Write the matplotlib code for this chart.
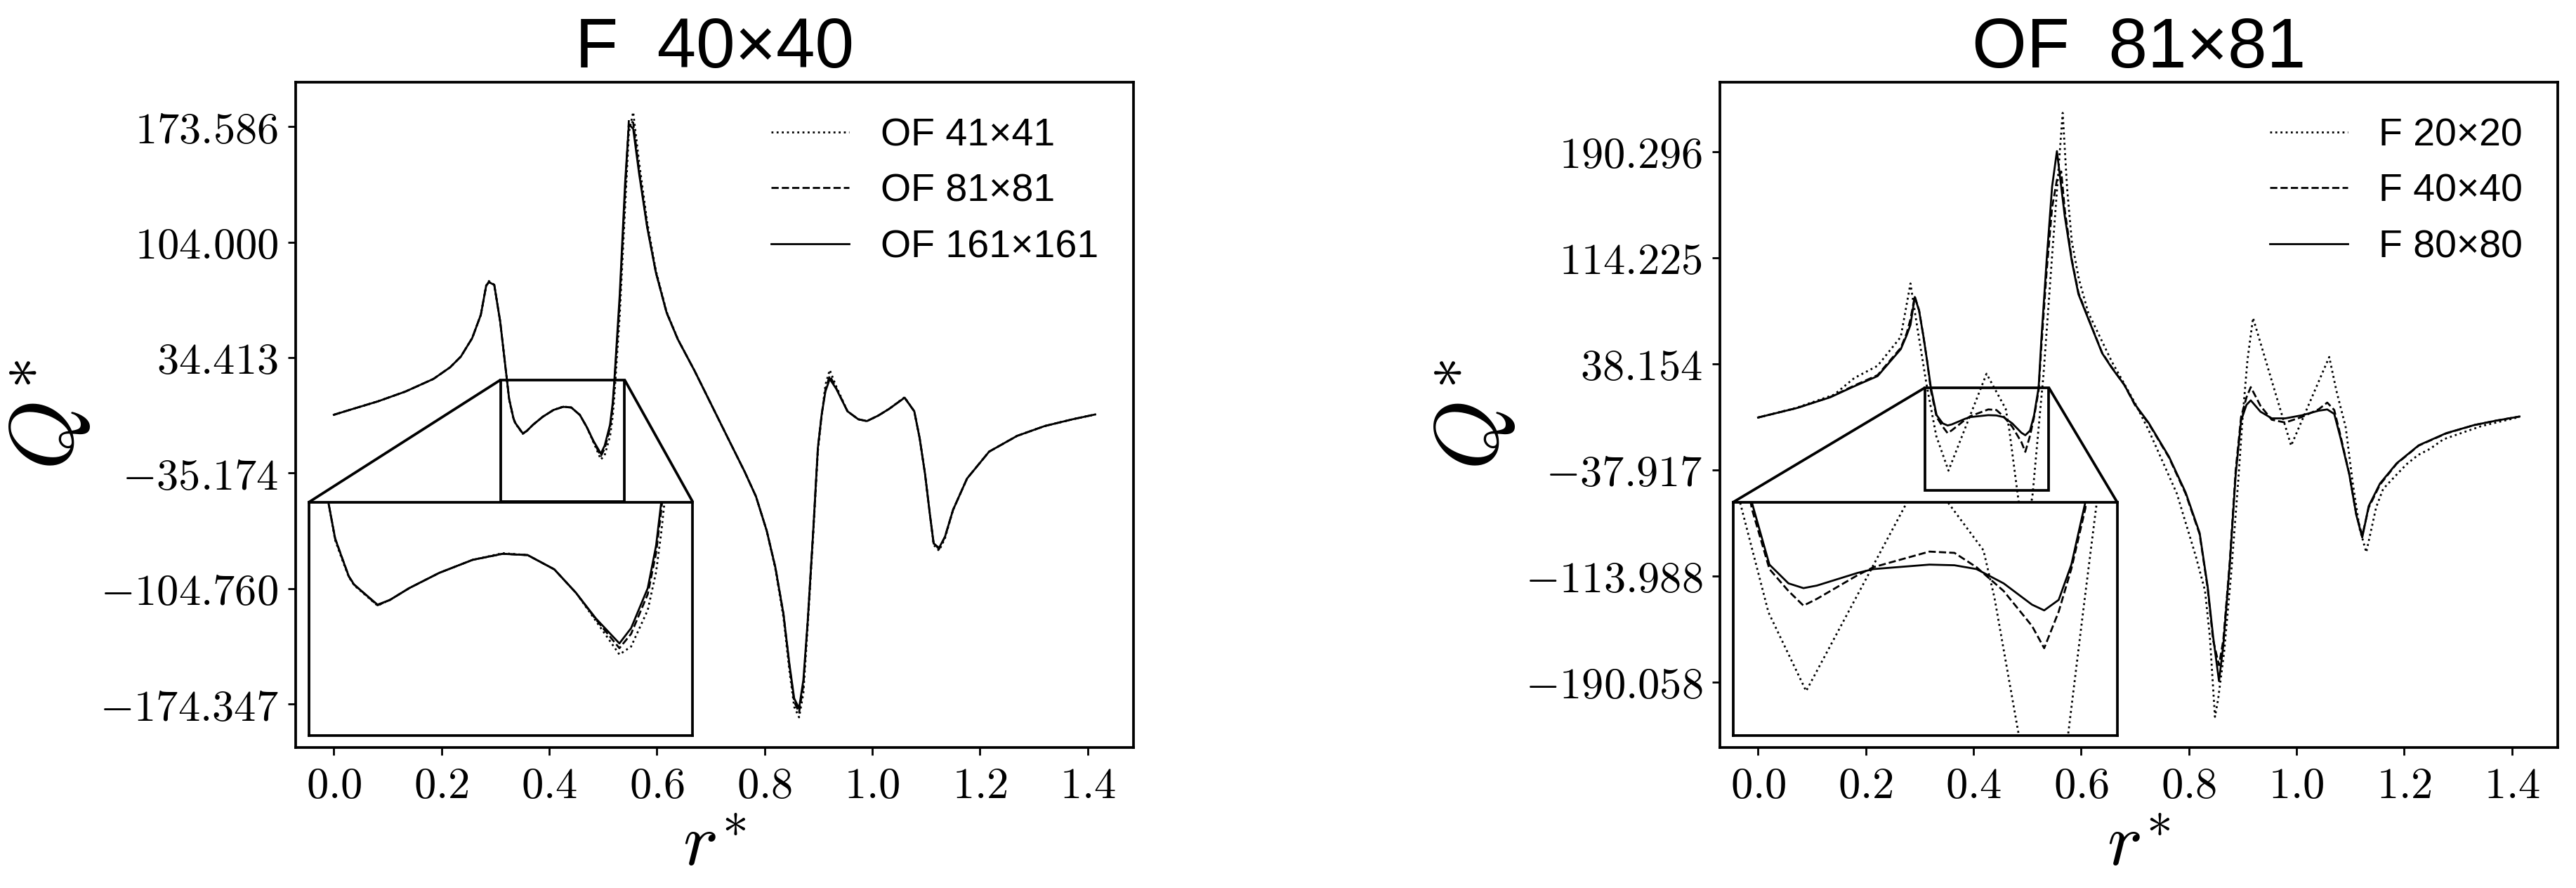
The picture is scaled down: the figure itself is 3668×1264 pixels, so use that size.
# Comparacion de Q* a lo largo de la diagonal para distintas mallas (OF y F).
import matplotlib
matplotlib.use("Agg")
import matplotlib.pyplot as plt
from mpl_toolkits.axes_grid1.inset_locator import mark_inset

plt.rcParams['mathtext.fontset'] = 'cm'
fuente_sans = ['Liberation Sans', 'DejaVu Sans']

# ---------------- panel izquierdo: titulo F 40x40, curvas OF ----------------
r_left = [0.000, 0.030, 0.082, 0.133, 0.185, 0.216, 0.236, 0.257, 0.273, 0.283,
          0.288, 0.298, 0.309, 0.3215, 0.3256, 0.3297, 0.3338, 0.337, 0.351, 0.3585,
          0.370, 0.388, 0.408, 0.426, 0.441, 0.457, 0.470, 0.482, 0.496, 0.503,
          0.513, 0.518, 0.521, 0.531, 0.541, 0.548, 0.556, 0.567, 0.582, 0.598,
          0.618, 0.639, 0.670, 0.701, 0.732, 0.763, 0.784, 0.804, 0.820, 0.835,
          0.846, 0.855, 0.864, 0.872, 0.880, 0.890, 0.899, 0.906, 0.913, 0.921,
          0.933, 0.954, 0.974, 0.990, 1.011, 1.031, 1.060, 1.078, 1.088, 1.098,
          1.107, 1.114, 1.124, 1.135, 1.150, 1.176, 1.217, 1.269, 1.320, 1.372,
          1.414]

q_of161 = [-0.1, 2.9, 8.0, 13.9, 21.5, 28.5, 35.0, 46.1, 60.1, 77.7,
           79.8, 78.2, 56.1, 21.0, 9.5, 3.5, -2.4, -5.0, -11.3, -9.8,
           -6.1, -1.3, 2.8, 4.7, 4.3, -0.2, -7.6, -15.7, -23.5, -18.7,
           -6.1, 7.3, 20.6, 72.3, 139.8, 175.0, 172.2, 145.2, 112.8, 85.8,
           61.5, 45.3, 26.4, 6.1, -14.2, -34.4, -49.3, -70.0, -92.0, -120.0,
           -150.0, -171.0, -177.0, -160.0, -125.0, -72.0, -20.0, 0.0, 14.0, 21.5,
           15.6, 2.0, -2.8, -3.9, -0.6, 3.4, 10.2, 2.0, -14.2, -35.8,
           -60.1, -77.6, -80.3, -73.6, -57.4, -38.5, -22.3, -12.8, -6.9, -2.8,
           0.1]

q_of81 = [-0.1, 2.9, 8.0, 13.9, 21.5, 28.5, 35.0, 46.1, 60.1, 77.7,
          80.0, 78.2, 56.1, 21.0, 9.5, 3.5, -2.4, -5.0, -11.5, -9.8,
          -6.1, -1.3, 2.8, 4.7, 4.3, -0.2, -7.6, -16.0, -25.0, -20.5,
          -8.0, 5.0, 18.0, 68.0, 134.0, 177.5, 176.0, 147.0, 113.5, 86.0,
          61.5, 45.3, 26.4, 6.1, -14.2, -34.4, -49.3, -70.0, -92.0, -120.0,
          -151.0, -173.0, -179.5, -163.0, -125.0, -72.0, -20.0, 0.0, 15.0, 23.5,
          16.0, 2.0, -2.8, -3.9, -0.6, 3.4, 10.2, 2.0, -14.2, -35.8,
          -60.1, -77.6, -81.0, -73.6, -57.4, -38.5, -22.3, -12.8, -6.9, -2.8,
          0.1]

q_of41 = [-0.1, 2.9, 8.0, 13.9, 21.5, 28.5, 35.0, 46.1, 60.1, 77.7,
          80.5, 78.2, 56.1, 21.0, 9.0, 3.0, -2.6, -5.2, -11.6, -9.8,
          -6.1, -1.3, 2.8, 4.9, 4.3, -0.2, -7.6, -16.5, -27.0, -24.5,
          -13.0, -1.0, 11.0, 60.0, 125.0, 170.0, 182.3, 152.0, 116.0, 87.0,
          62.0, 45.5, 26.4, 6.1, -14.2, -34.4, -49.3, -70.0, -93.0, -122.0,
          -154.0, -176.0, -182.4, -168.0, -128.0, -74.0, -22.0, -1.0, 18.0, 26.9,
          17.0, 2.0, -2.8, -3.9, -0.6, 3.4, 10.5, 2.0, -14.2, -35.8,
          -60.1, -78.5, -82.0, -74.5, -57.4, -38.5, -22.3, -12.8, -6.9, -2.8,
          0.1]

ticks_left = [173.586, 104.000, 34.413, -35.174, -104.760, -174.347]

# ---------------- panel derecho: titulo OF 81x81, curvas F ----------------
r_right = [0.000, 0.072, 0.134, 0.1786, 0.222, 0.265, 0.276, 0.283, 0.291, 0.299,
           0.307, 0.314, 0.321, 0.3316, 0.343, 0.352, 0.360, 0.3845, 0.394, 0.4275,
           0.4425, 0.4557, 0.472, 0.489, 0.4963, 0.505, 0.5126, 0.521, 0.526, 0.536,
           0.546, 0.555, 0.563, 0.5697, 0.5826, 0.595, 0.613, 0.639, 0.6565, 0.680,
           0.700, 0.725, 0.763, 0.794, 0.820, 0.835, 0.845, 0.856, 0.864, 0.876,
           0.887, 0.897, 0.907, 0.915, 0.933, 0.954, 0.979, 1.010, 1.041, 1.057,
           1.070, 1.082, 1.098, 1.111, 1.122, 1.134, 1.155, 1.186, 1.227, 1.278,
           1.330, 1.371, 1.414]

q_f80 = [-0.4, 6.4, 14.1, 22.0, 29.3, 48.6, 58.6, 66.0, 86.0, 76.3,
         58.0, 40.0, 21.0, 1.3, -4.6, -6.1, -5.3, -1.3, -0.1, 1.3,
         1.1, -0.1, -4.6, -11.3, -13.1, -9.8, 1.3, 21.0, 55.0, 113.0,
         165.0, 190.6, 165.0, 143.6, 111.8, 88.0, 70.6, 45.7, 35.4, 23.1,
         9.0, -4.0, -28.4, -54.1, -83.1, -121.8, -157.2, -189.4, -163.6, -105.7,
         -41.3, -2.6, 8.7, 11.9, 3.8, -1.0, -1.0, 1.2, 4.5, 5.4,
         2.2, -15.5, -41.3, -70.3, -86.4, -63.9, -47.7, -33.2, -20.3, -11.6,
         -5.8, -2.6, 0.3]

q_f40 = [-0.4, 6.4, 14.3, 22.5, 30.0, 49.5, 60.0, 70.0, 86.5, 76.5,
         58.0, 40.0, 19.0, -0.1, -7.0, -11.6, -9.5, -2.0, 0.5, 5.4,
         5.0, 0.5, -7.0, -18.0, -25.0, -13.5, 0.0, 19.0, 50.0, 105.0,
         150.0, 170.0, 176.0, 148.0, 113.0, 89.0, 71.0, 46.0, 35.8, 23.1,
         8.5, -4.5, -29.0, -55.0, -84.0, -123.0, -160.0, -178.0, -160.0, -104.0,
         -38.0, 0.0, 14.0, 21.4, 8.0, -2.0, -4.0, 0.0, 5.5, 10.3,
         5.0, -14.0, -41.0, -70.0, -85.0, -65.0, -48.5, -33.5, -20.5, -11.8,
         -5.8, -2.6, 0.3]

r_f20 = [0.000, 0.0707, 0.1414, 0.1786, 0.222, 0.265, 0.283, 0.296, 0.3135, 0.331,
         0.3536, 0.4243, 0.4599, 0.4665, 0.481, 0.495, 0.510, 0.520, 0.530, 0.545,
         0.5657, 0.5739, 0.5826, 0.5957, 0.613, 0.6565, 0.700, 0.726, 0.7778, 0.813,
         0.830, 0.839, 0.8485, 0.8545, 0.8654, 0.8784, 0.8915, 0.9002, 0.9089, 0.9192,
         0.9899, 1.0607, 1.0739, 1.0913, 1.1043, 1.1173, 1.1295, 1.1478, 1.1608, 1.1825,
         1.2043, 1.226, 1.2477, 1.2728, 1.3435, 1.4142]

q_f20 = [-0.4, 6.5, 16.0, 27.9, 36.7, 57.4, 95.7, 63.4, 21.9, -13.7,
         -38.5, 31.0, 5.8, -9.1, -52.1, -93.0, -55.0, -12.0, 30.0, 110.0,
         218.0, 164.0, 126.0, 99.0, 75.0, 40.0, 10.0, -10.0, -55.0, -100.0,
         -124.5, -157.5, -215.0, -202.0, -169.0, -113.0, -47.0, 1.5, 41.0, 71.0,
         -20.6, 43.0, 19.0, -7.4, -47.2, -80.3, -97.0, -64.8, -51.6, -42.7,
         -33.9, -27.2, -22.9, -16.0, -6.5, 0.0]

ticks_right = [190.296, 114.225, 38.154, -37.917, -113.988, -190.058]

x_ticks = [0.0, 0.2, 0.4, 0.6, 0.8, 1.0, 1.2, 1.4]


# Funcion que dibuja un panel con su ventana de zoom
def dibujar_panel(ax, titulo, series, yticks, ylim):
    for r, q, estilo, nombre in series:
        ax.plot(r, q, linestyle=estilo, color='k', lw=2.0, label=nombre)

    ax.set_xlim(-0.0707, 1.485)
    ax.set_ylim(*ylim)
    ax.set_xticks(x_ticks)
    ax.set_xticklabels(['$%.1f$' % t for t in x_ticks])
    ax.set_yticks(yticks)
    ax.set_yticklabels(['$%.3f$' % t for t in yticks])
    ax.tick_params(labelsize=45, length=8, width=2, pad=10)
    for s in ax.spines.values():
        s.set_linewidth(2.7)

    ax.set_title(titulo, fontsize=72, pad=14, family=fuente_sans)
    ax.set_xlabel(r'$r^{\!*}$', fontsize=76, labelpad=2)
    ax.set_ylabel(r'$Q^{*}$', fontsize=92, labelpad=8)
    ax.legend(loc='upper right', frameon=False, handlelength=2.0,
              prop={'family': fuente_sans, 'size': 40})

    # ventana de zoom
    axins = ax.inset_axes([0.016, 0.018, 0.458, 0.351])
    for r, q, estilo, nombre in series:
        axins.plot(r, q, linestyle=estilo, color='k', lw=2.0)
    axins.set_xlim(0.31, 0.54)
    axins.set_ylim(-52.5, 21.0)
    axins.set_xticks([])
    axins.set_yticks([])
    for s in axins.spines.values():
        s.set_linewidth(2.7)
    mark_inset(ax, axins, loc1=1, loc2=2, fc='none', ec='k', lw=2.7)


fig = plt.figure(figsize=(36.68, 12.64), dpi=100)
ax1 = fig.add_axes([0.1148, 0.1582, 0.3252, 0.7492])
ax2 = fig.add_axes([0.6677, 0.1582, 0.3252, 0.7492])

dibujar_panel(ax1, 'F  40×40',
              [(r_left, q_of41, ':', 'OF 41×41'),
               (r_left, q_of81, '--', 'OF 81×81'),
               (r_left, q_of161, '-', 'OF 161×161')],
              ticks_left, (-200.6, 200.3))

dibujar_panel(ax2, 'OF  81×81',
              [(r_f20, q_f20, ':', 'F 20×20'),
               (r_right, q_f40, '--', 'F 40×40'),
               (r_right, q_f80, '-', 'F 80×80')],
              ticks_right, (-237.0, 240.0))

fig.savefig('out.png', dpi=100)
